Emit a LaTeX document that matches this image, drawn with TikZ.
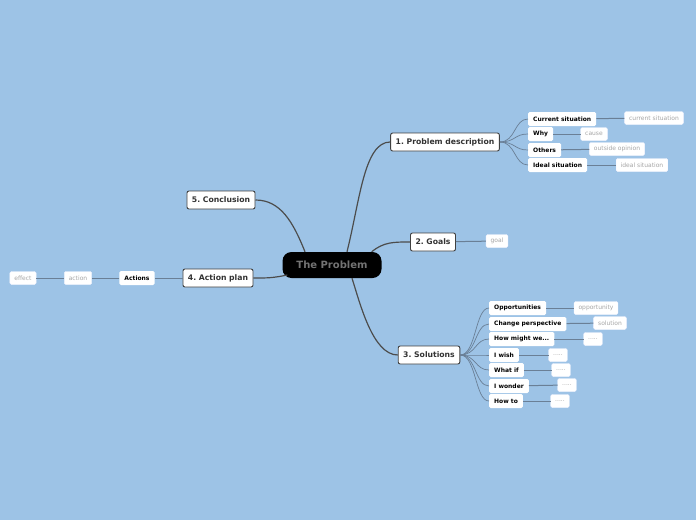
\documentclass[tikz,border=0pt]{standalone}
\usepackage{fontspec}
\setmainfont{DejaVu Sans}
\usepackage{tikz}
\usepackage{xcolor}
\definecolor{fond}{HTML}{9DC3E6}
\definecolor{lienbleu}{HTML}{6A7F96}
\frenchspacing
\tikzset{
Centre/.style={
 fill=black, 
 rounded corners=9pt, 
 text=black!55, 
 font=\fontsize{10}{12}\selectfont\bfseries, 
 minimum width=99pt, 
 minimum height=26pt
 },
Branche/.style={
 fill=white, 
 draw=black!75, 
 line width=0.9pt, 
 rounded corners=2pt, 
 text=black!80, 
 font=\fontsize{7.7}{9}\selectfont\bfseries, 
 inner xsep=5pt, 
 minimum height=18pt
 },
Sous/.style={
 fill=white, 
 rounded corners=1.5pt, 
 font=\fontsize{6}{7}\selectfont\bfseries, 
 inner xsep=5pt, 
 minimum height=14pt
 },
Feuille/.style={
 fill=white, 
 draw=blue!4, 
 line width=0.4pt, 
 rounded corners=1.5pt, 
 text=black!35, 
 font=\fontsize{6}{7}\selectfont, 
 inner xsep=4.5pt, 
 minimum height=13pt
 },
Lien/.style={
 draw=black!70, 
 line width=1.2pt
 },
SLien/.style={
 draw=lienbleu, 
 line width=0.7pt
 },
FLien/.style={
 draw=lienbleu, 
 line width=1pt
 }
}
\begin{document}
\begin{tikzpicture}[x=1pt,y=-1pt]
\useasboundingbox (0,0) rectangle (696,520);
\fill[fond] (0,0) rectangle (696,520);
\node[Centre] (pb) at (332,265) {The Problem};
\node[Branche] (pd) at (445,142) {1. Problem description};
\node[Branche] (goals) at (433,242) {2. Goals};
\node[Branche] (sol) at (429,355) {3. Solutions};
\node[Branche] (ap) at (218,278) {4. Action plan};
\node[Branche] (conc) at (221,200) {5. Conclusion};
\node[Sous,anchor=west] (cs) at (528,119) {Current situation};
\node[Sous,anchor=west] (why) at (528,134) {Why};
\node[Sous,anchor=west] (oth) at (528,150) {Others};
\node[Sous,anchor=west] (ideal) at (528,165) {Ideal situation};
\node[Feuille] (cs2) at (654,118) {current situation};
\node[Feuille] (cause) at (594,134) {cause};
\node[Feuille] (opin) at (617,149) {outside opinion};
\node[Feuille] (ideal2) at (642,165) {ideal situation};
\node[Feuille] (goal) at (497,241) {goal};
\node[Sous,anchor=west] (opp) at (489,308) {Opportunities};
\node[Sous,anchor=west] (chg) at (489,324) {Change perspective};
\node[Sous,anchor=west] (hmw) at (489,339) {How might we...};
\node[Sous,anchor=west] (wish) at (489,355) {I wish};
\node[Sous,anchor=west] (wif) at (489,370) {What if};
\node[Sous,anchor=west] (wond) at (489,386) {I wonder};
\node[Sous,anchor=west] (hto) at (489,401) {How to};
\node[Feuille] (opp2) at (596,308) {opportunity};
\node[Feuille] (solu) at (610,323) {solution};
\node[Feuille] (hmw2) at (593,339) {.....};
\node[Feuille] (wish2) at (558,355) {.....};
\node[Feuille] (wif2) at (561,370) {.....};
\node[Feuille] (wond2) at (567,385) {.....};
\node[Feuille] (hto2) at (560,401) {.....};
\node[Sous] (act) at (137,278) {Actions};
\node[Feuille] (action) at (78,278) {action};
\node[Feuille] (effect) at (23,278) {effect};
\draw[Lien] ([xshift=15pt]pb.north) .. controls +(13,-52) and +(-26,0) .. (pd.west);
\draw[Lien] ([xshift=-10pt]pb.north east) .. controls +(12,-10) and +(-16,0) .. (goals.west);
\draw[Lien] ([xshift=20pt]pb.south) .. controls +(8,25) and +(-25,0) .. (sol.west);
\draw[Lien] ([xshift=5pt,yshift=-10pt]pb.west) .. controls +(-15,3) and +(15,0) .. (ap.east);
\draw[Lien] ([xshift=-27pt]pb.north) .. controls +(-12,-30) and +(25,0) .. (conc.east);
\draw[SLien] (pd.east) .. controls +(16,0) and +(-14,0) .. (cs.west);
\draw[SLien] (pd.east) .. controls +(16,0) and +(-14,0) .. (why.west);
\draw[SLien] (pd.east) .. controls +(16,0) and +(-14,0) .. (oth.west);
\draw[SLien] (pd.east) .. controls +(16,0) and +(-14,0) .. (ideal.west);
\draw[SLien] (sol.east) .. controls +(16,0) and +(-14,0) .. (opp.west);
\draw[SLien] (sol.east) .. controls +(16,0) and +(-14,0) .. (chg.west);
\draw[SLien] (sol.east) .. controls +(16,0) and +(-14,0) .. (hmw.west);
\draw[SLien] (sol.east) .. controls +(16,0) and +(-14,0) .. (wish.west);
\draw[SLien] (sol.east) .. controls +(16,0) and +(-14,0) .. (wif.west);
\draw[SLien] (sol.east) .. controls +(16,0) and +(-14,0) .. (wond.west);
\draw[SLien] (sol.east) .. controls +(16,0) and +(-14,0) .. (hto.west);
\draw[FLien] (cs) -- (cs2);
\draw[FLien] (why) -- (cause);
\draw[FLien] (oth) -- (opin);
\draw[FLien] (ideal) -- (ideal2);
\draw[FLien] (goals) -- (goal);
\draw[FLien] (opp) -- (opp2);
\draw[FLien] (chg) -- (solu);
\draw[FLien] (hmw) -- (hmw2);
\draw[FLien] (wish) -- (wish2);
\draw[FLien] (wif) -- (wif2);
\draw[FLien] (wond) -- (wond2);
\draw[FLien] (hto) -- (hto2);
\draw[FLien] (ap) -- (act);
\draw[FLien] (act) -- (action);
\draw[FLien] (action) -- (effect);
\end{tikzpicture}
\end{document}
